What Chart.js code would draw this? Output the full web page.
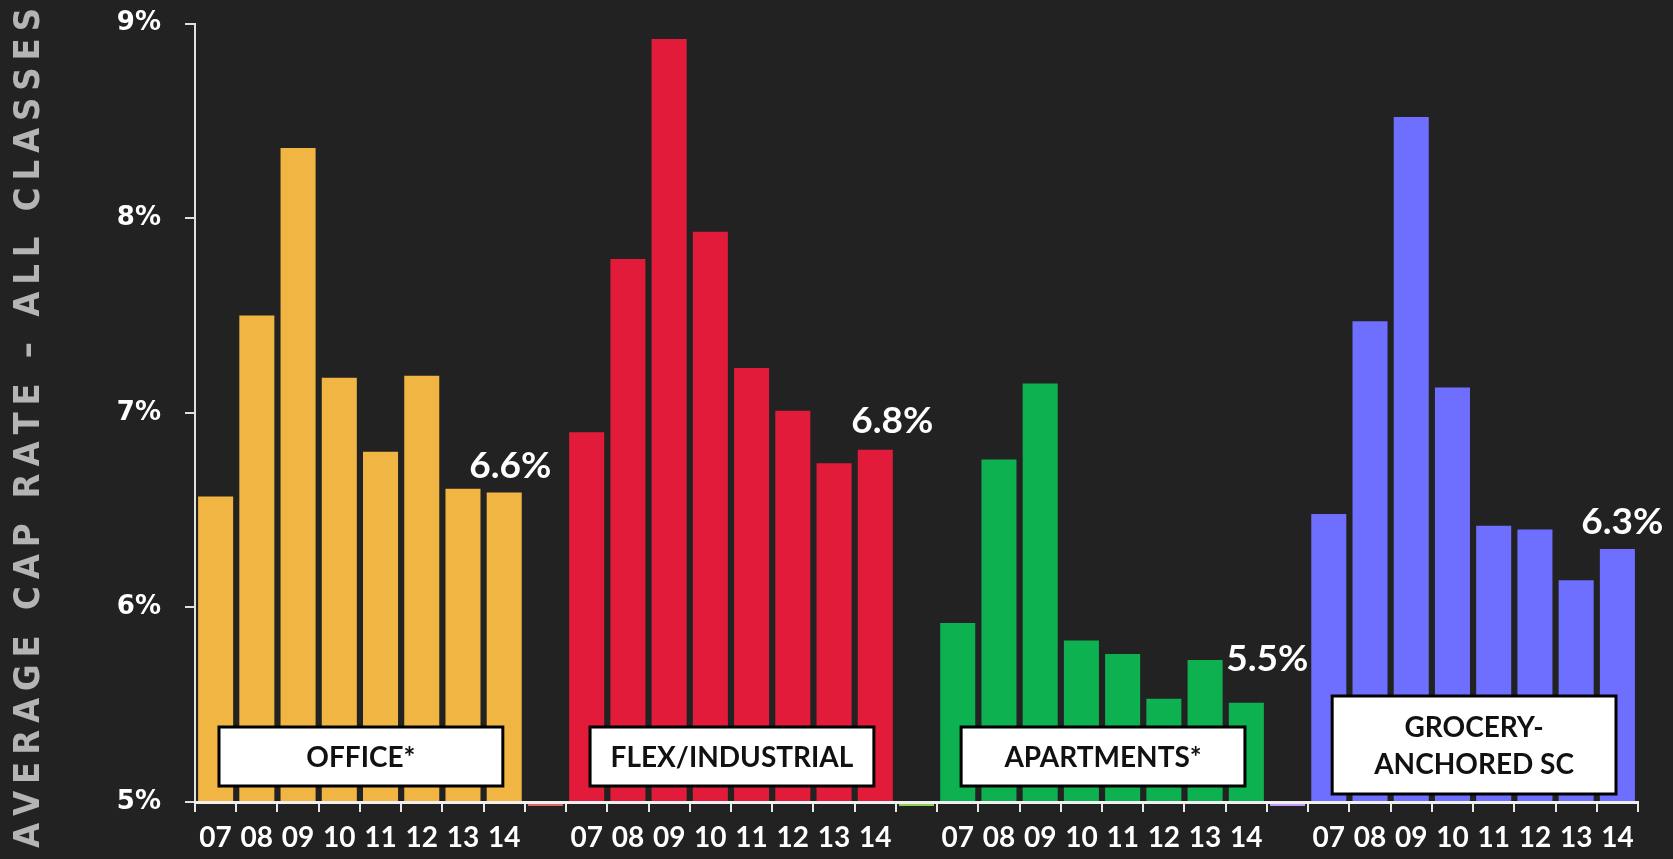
<!DOCTYPE html>
<html>
<head>
<meta charset="utf-8">
<script src="https://cdn.jsdelivr.net/npm/chart.js@4/dist/chart.umd.min.js"></script>
<style>
  html, body { margin: 0; padding: 0; background: #222222; }
  #wrap { position: relative; width: 1673px; height: 859px; }
</style>
</head>
<body>
<div id="wrap"><canvas id="c" width="1673" height="859"></canvas></div>
<script>
// ---- Data ----
const years = ['07', '08', '09', '10', '11', '12', '13', '14'];
const office = [6.57, 7.50, 8.36, 7.18, 6.80, 7.19, 6.61, 6.59];
const flexIndustrial = [6.90, 7.79, 8.92, 7.93, 7.23, 7.01, 6.74, 6.81];
const apartments = [5.92, 6.76, 7.15, 5.83, 5.76, 5.53, 5.73, 5.51];
const groceryAnchored = [6.48, 7.47, 8.52, 7.13, 6.42, 6.40, 6.14, 6.30];
const groupNames = [['OFFICE*'], ['FLEX/INDUSTRIAL'], ['APARTMENTS*'], ['GROCERY-', 'ANCHORED SC']];
const endLabels = ['6.6%', '6.8%', '5.5%', '6.3%'];
const yTicks = [5, 6, 7, 8, 9];
const yTitle = 'AVERAGE CAP RATE \u2013 ALL CLASSES';

// ---- Styles ----
const groupColors = ['#F0B542', '#E31B3B', '#0DB14F', '#6E6EFF'];
const sepColors = ['#E06666', '#92D050', '#C39BFF'];
const endLabelDx = [6, 17, 21, 5];
const endLabelGap = [15, 17, 32, 15];
const plotTop = 23.5;

// ---- Build category table ----
const groups = [office, flexIndustrial, apartments, groceryAnchored];
const labels = [];
const values = [];
const colors = [];
const sepValues = [];
const sepCols = [];
groups.forEach((g, gi) => {
  g.forEach((v, i) => {
    labels.push(years[i]);
    values.push(v);
    colors.push(groupColors[gi]);
    sepValues.push(null);
    sepCols.push('rgba(0,0,0,0)');
  });
  if (gi < groups.length - 1) {
    labels.push('');
    values.push(null);
    colors.push('rgba(0,0,0,0)');
    sepValues.push([4.979, 4.990]);
    sepCols.push(sepColors[gi]);
  }
});

const fixTopPlugin = {
  id: 'fixTop',
  afterLayout(chart) {
    const y = chart.scales.y;
    const area = chart.chartArea;
    area.top = plotTop;
    area.height = area.bottom - area.top;
    y.top = plotTop;
    y.height = y.bottom - y.top;
    y.configure();
  }
};

const annotPlugin = {
  id: 'annot',
  afterDraw(chart) {
    const ctx = chart.ctx;
    const x = chart.scales.x;
    const meta = chart.getDatasetMeta(0);
    const half = (x.getPixelForValue(1) - x.getPixelForValue(0)) / 2;
    const area = chart.chartArea;
    ctx.save();
    groups.forEach((g, gi) => {
      const s = gi * (years.length + 1);
      const e = s + years.length - 1;
      const left = x.getPixelForValue(s) - half + 24;
      const right = x.getPixelForValue(e) + half - 22;
      const lines = groupNames[gi];
      const bottom = lines.length > 1 ? area.bottom - 8 : area.bottom - 16;
      const top = lines.length > 1 ? bottom - 98 : bottom - 59;
      ctx.fillStyle = '#ffffff';
      ctx.fillRect(left, top, right - left, bottom - top);
      ctx.lineWidth = 3;
      ctx.strokeStyle = '#000000';
      ctx.strokeRect(left, top, right - left, bottom - top);
      ctx.fillStyle = '#111111';
      ctx.font = 'bold 28px Lato, "Open Sans", sans-serif';
      ctx.textAlign = 'center';
      ctx.textBaseline = 'middle';
      const cx = (left + right) / 2;
      const lh = 37;
      const cy = (top + bottom) / 2;
      lines.forEach((ln, li) => {
        ctx.fillText(ln, cx, cy + (li - (lines.length - 1) / 2) * lh + 1);
      });
      const bar = meta.data[e];
      ctx.fillStyle = '#ffffff';
      ctx.font = 'bold 37px Lato, "Open Sans", sans-serif';
      ctx.textBaseline = 'alphabetic';
      ctx.fillText(endLabels[gi], bar.x + endLabelDx[gi], bar.y - endLabelGap[gi]);
    });
    ctx.font = 'bold 36px "DejaVu Sans Condensed", "DejaVu Sans", sans-serif';
    ctx.fillStyle = '#B4B4B4';
    ctx.textBaseline = 'middle';
    ctx.textAlign = 'left';
    const chars = Array.from(yTitle);
    const target = 840;
    let raw = 0;
    chars.forEach(ch => raw += ctx.measureText(ch).width);
    const sp = (target - raw) / (chars.length - 1);
    ctx.translate(30, 848);
    ctx.rotate(-Math.PI / 2);
    let px = 0;
    chars.forEach(ch => {
      ctx.fillText(ch, px, 0);
      px += ctx.measureText(ch).width + sp;
    });
    ctx.restore();
  }
};

const bgPlugin = {
  id: 'bg',
  beforeDraw(chart) {
    const ctx = chart.ctx;
    ctx.save();
    ctx.fillStyle = '#222222';
    ctx.fillRect(0, 0, chart.width, chart.height);
    ctx.restore();
  }
};

new Chart(document.getElementById('c'), {
  type: 'bar',
  data: {
    labels: labels,
    datasets: [
      { data: values, backgroundColor: colors, barPercentage: 0.85, categoryPercentage: 1.0, grouped: false },
      { data: sepValues, backgroundColor: sepCols, barPercentage: 0.85, categoryPercentage: 1.0, grouped: false, clip: false }
    ]
  },
  options: {
    responsive: false,
    animation: false,
    events: [],
    layout: { padding: { top: 7, right: 35, left: 0, bottom: 0 } },
    plugins: { legend: { display: false }, tooltip: { enabled: false }, title: { display: false } },
    scales: {
      x: {
        offset: true,
        grid: { offset: true, drawOnChartArea: false, drawTicks: true, tickLength: 10, color: '#e8e8e8', lineWidth: 2 },
        border: { display: true, color: '#f0f0f0', width: 3, z: 1 },
        ticks: { color: '#ffffff', font: { family: 'Lato, "Open Sans", sans-serif', size: 28, weight: 'bold' }, padding: 9, maxRotation: 0, autoSkip: false },
        afterFit(scale) { scale.height = 57; }
      },
      y: {
        min: 5,
        max: 9,
        afterBuildTicks(scale) { scale.ticks = yTicks.map(v => ({ value: v })); },
        grid: { drawOnChartArea: false, drawTicks: true, tickLength: 10, color: '#e0e0e0', lineWidth: 2 },
        border: { display: true, color: '#e0e0e0', width: 2 },
        ticks: { color: '#ffffff', font: { family: '"DejaVu Sans", Verdana, sans-serif', size: 26, weight: 'bold' }, padding: 24, callback: v => v + '%' },
        afterFit(scale) { scale.width = 195; }
      }
    }
  },
  plugins: [bgPlugin, fixTopPlugin, annotPlugin]
});
</script>
</body>
</html>
